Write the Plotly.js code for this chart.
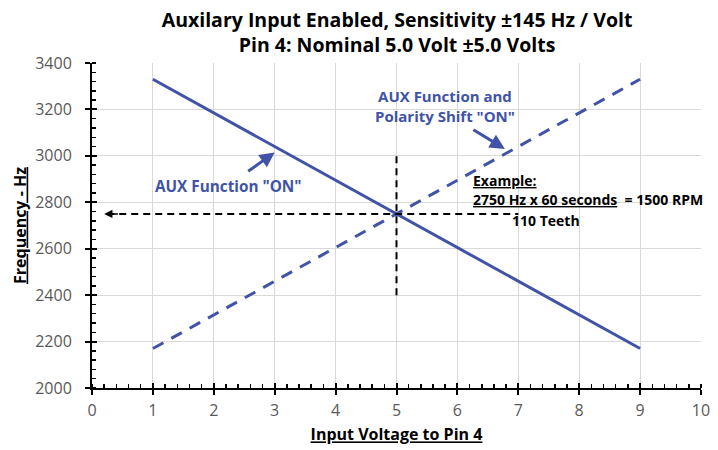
<!DOCTYPE html>
<html>
<head>
<meta charset="utf-8">
<script src="https://cdn.plot.ly/plotly-3.0.1.min.js"></script>
<style>html,body{margin:0;padding:0;background:#fff;}#chart{width:718px;height:450px;}</style>
</head>
<body>
<div id="chart"></div>
<script>
var voltage = [1, 9];
var auxOn = [3330, 2170];
var auxPolarityShift = [2170, 3330];
var nominalVoltage = 5;
var nominalFreq = 2750;
var markerFreqRange = [2400, 3000];
var markerVoltRange = [0.25, 7];
var xTicks = [0, 1, 2, 3, 4, 5, 6, 7, 8, 9, 10];
var yTicks = [2000, 2200, 2400, 2600, 2800, 3000, 3200, 3400];

var FONT = "'Open Sans', sans-serif";
var BLUE = '#4053A6';

var traces = [
  {x: voltage, y: auxOn, mode: 'lines', line: {color: BLUE, width: 3}, hoverinfo: 'skip'},
  {x: voltage, y: auxPolarityShift, mode: 'lines', line: {color: BLUE, width: 3, dash: '12px,9px'}, hoverinfo: 'skip'},
  {x: [0], y: [2000], xaxis: 'x2', yaxis: 'y2', mode: 'markers', marker: {opacity: 0}, hoverinfo: 'skip'}
];

var layout = {
  width: 718, height: 450,
  margin: {l: 92, r: 17, t: 63, b: 62},
  showlegend: false,
  paper_bgcolor: '#fff', plot_bgcolor: '#fff',
  font: {family: FONT, color: '#595959'},
  title: {text: '<b>Auxilary Input Enabled, Sensitivity ±145 Hz / Volt<br>Pin 4: Nominal 5.0 Volt ±5.0 Volts</b>',
          font: {family: FONT, size: 19.5, color: '#000'}, x: 0.553, xanchor: 'center', y: 0.94, yanchor: 'top'},
  xaxis: {range: [0, 10], tickvals: xTicks, ticks: 'outside', ticklen: 5, tickwidth: 2, tickcolor: '#000',
          showline: true, linecolor: '#000', linewidth: 2, showgrid: true, gridcolor: '#D9D9D9', gridwidth: 1,
          zeroline: false, tickfont: {size: 16, color: '#595959'}, ticklabelstandoff: 2,
          minor: {dtick: 0.2, ticks: 'inside', ticklen: 4, tickwidth: 1.5, tickcolor: '#000', showgrid: false},
          title: {text: '<b><u>Input Voltage to Pin 4</u></b>', font: {size: 16, color: '#000'}, standoff: 9}},
  yaxis: {range: [2000, 3400], tickvals: yTicks, ticks: 'outside', ticklen: 5, tickwidth: 2, tickcolor: '#000',
          showline: true, linecolor: '#000', linewidth: 2, showgrid: true, gridcolor: '#D9D9D9', gridwidth: 1,
          zeroline: false, tickfont: {size: 16, color: '#595959'}, ticklabelstandoff: 10,
          minor: {dtick: 40, ticks: 'inside', ticklen: 4, tickwidth: 1.5, tickcolor: '#000', showgrid: false},
          title: {text: '<b><u>Frequency - Hz</u></b>', font: {size: 16, color: '#000'}, standoff: 5}},
  xaxis2: {overlaying: 'x', range: [0, 10], tickvals: xTicks, ticks: 'inside', ticklen: 5, tickwidth: 2, tickcolor: '#000',
           showticklabels: false, showgrid: false, zeroline: false, showline: false, side: 'bottom'},
  yaxis2: {overlaying: 'y', range: [2000, 3400], tickvals: yTicks, ticks: 'inside', ticklen: 5, tickwidth: 2, tickcolor: '#000',
           showticklabels: false, showgrid: false, zeroline: false, showline: false, side: 'left'},
  shapes: [
    {type: 'line', xref: 'x', yref: 'y', x0: nominalVoltage, x1: nominalVoltage, y0: markerFreqRange[0], y1: markerFreqRange[1],
     line: {color: '#000', width: 2, dash: '7px,5px'}},
    {type: 'line', xref: 'x', yref: 'y', x0: markerVoltRange[0], x1: markerVoltRange[1], y0: nominalFreq, y1: nominalFreq,
     line: {color: '#000', width: 2, dash: '7px,5px'}}
  ],
  annotations: [
    {x: 0.2, y: nominalFreq, xref: 'x', yref: 'y', ax: 0.45, ay: nominalFreq, axref: 'x', ayref: 'y', text: '',
     showarrow: true, arrowhead: 2, arrowsize: 1.1, arrowwidth: 1.5, arrowcolor: '#000'},
    {x: 3.0, y: 3015, xref: 'x', yref: 'y', ax: -28, ay: 20, text: '', showarrow: true,
     arrowhead: 2, arrowsize: 1, arrowwidth: 3, arrowcolor: BLUE},
    {x: 2.24, y: 2870, xref: 'x', yref: 'y', text: '<b>AUX Function "ON"</b>', showarrow: false,
     font: {family: FONT, size: 15.3, color: BLUE}, xanchor: 'center', yanchor: 'middle'},
    {x: 6.78, y: 3030, xref: 'x', yref: 'y', ax: -33, ay: -20, text: '', showarrow: true,
     arrowhead: 2, arrowsize: 1, arrowwidth: 3, arrowcolor: BLUE},
    {x: 5.8, y: 3215, xref: 'x', yref: 'y', text: '<b>AUX Function and<br>Polarity Shift "ON"</b>', showarrow: false,
     font: {family: FONT, size: 15, color: BLUE}, xanchor: 'center', yanchor: 'middle'},
    {x: 6.23, y: 2895, xref: 'x', yref: 'y', text: '<b><u>Example:</u></b>', showarrow: false,
     font: {family: FONT, size: 14, color: '#000'}, xanchor: 'left', yanchor: 'middle'},
    {x: 6.23, y: 2812, xref: 'x', yref: 'y', text: '<b><u>2750 Hz x 60 seconds</u>  = 1500 RPM</b>', showarrow: false,
     font: {family: FONT, size: 14, color: '#000'}, xanchor: 'left', yanchor: 'middle'},
    {x: 6.86, y: 2722, xref: 'x', yref: 'y', text: '<b>110 Teeth</b>', showarrow: false,
     font: {family: FONT, size: 14, color: '#000'}, xanchor: 'left', yanchor: 'middle'}
  ]
};

Plotly.newPlot('chart', traces, layout, {displayModeBar: false, staticPlot: true});
</script>
</body>
</html>
